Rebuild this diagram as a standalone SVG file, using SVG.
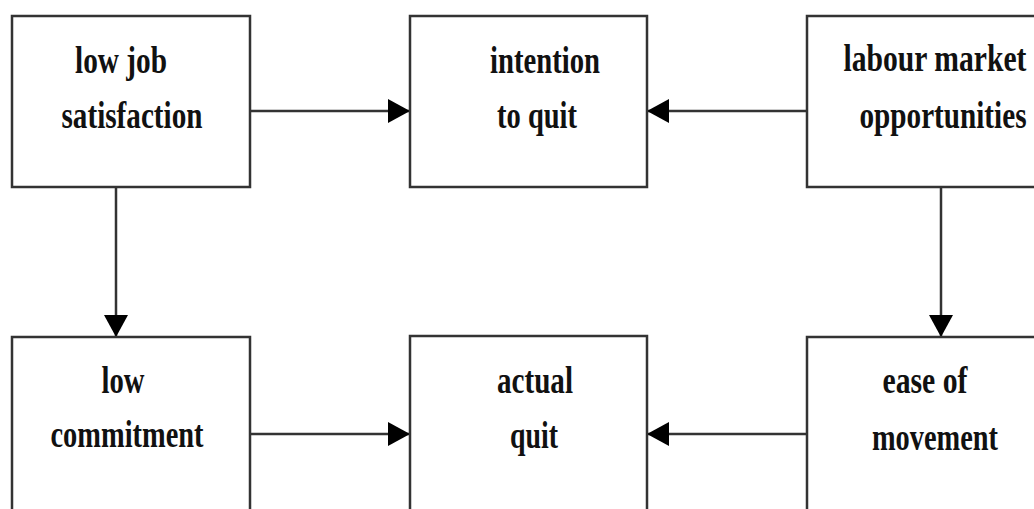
<svg xmlns="http://www.w3.org/2000/svg" width="1034" height="509" viewBox="0 0 1034 509">
  <defs>
    <style>
      .box { fill: #ffffff; stroke: #333333; stroke-width: 2.5; }
      .lbl { font-family: "Liberation Serif", "Times New Roman", serif; font-weight: bold; font-size: 37px; fill: #111111; text-anchor: middle; }
      .conn { stroke: #333333; stroke-width: 2.5; fill: none; marker-end: url(#arrow); }
    </style>
    <marker id="arrow" markerUnits="userSpaceOnUse" markerWidth="24" markerHeight="26" refX="22" refY="12" orient="auto">
      <path d="M0,0 L22,12 L0,24 Z" fill="#000000"/>
    </marker>
  </defs>
  <rect width="1034" height="509" fill="#ffffff"/>

  <g id="connectors">
    <line class="conn" x1="250" y1="111" x2="410" y2="111"/>
    <line class="conn" x1="807" y1="111" x2="647" y2="111"/>
    <line class="conn" x1="116" y1="187" x2="116" y2="337"/>
    <line class="conn" x1="941" y1="187" x2="941" y2="337"/>
    <line class="conn" x1="250" y1="434" x2="410" y2="434"/>
    <line class="conn" x1="807" y1="434" x2="647" y2="434"/>
  </g>

  <g id="low-job-satisfaction">
    <rect class="box" x="12" y="16" width="238" height="171"/>
    <text class="lbl" x="121" y="73" textLength="92" lengthAdjust="spacingAndGlyphs">low job</text>
    <text class="lbl" x="132" y="128" textLength="141" lengthAdjust="spacingAndGlyphs">satisfaction</text>
  </g>

  <g id="intention-to-quit">
    <rect class="box" x="410" y="16" width="237" height="171"/>
    <text class="lbl" x="545" y="73" textLength="110" lengthAdjust="spacingAndGlyphs">intention</text>
    <text class="lbl" x="537" y="128" textLength="80" lengthAdjust="spacingAndGlyphs">to quit</text>
  </g>

  <g id="labour-market-opportunities">
    <rect class="box" x="807" y="16" width="240" height="171"/>
    <text class="lbl" x="935" y="71" textLength="183" lengthAdjust="spacingAndGlyphs">labour market</text>
    <text class="lbl" x="943" y="128" textLength="167" lengthAdjust="spacingAndGlyphs">opportunities</text>
  </g>

  <g id="low-commitment">
    <rect class="box" x="12" y="337" width="238" height="180"/>
    <text class="lbl" x="123" y="393" textLength="43" lengthAdjust="spacingAndGlyphs">low</text>
    <text class="lbl" x="127" y="447" textLength="153" lengthAdjust="spacingAndGlyphs">commitment</text>
  </g>

  <g id="actual-quit">
    <rect class="box" x="410" y="336" width="237" height="180"/>
    <text class="lbl" x="535" y="393" textLength="76" lengthAdjust="spacingAndGlyphs">actual</text>
    <text class="lbl" x="534" y="448" textLength="48" lengthAdjust="spacingAndGlyphs">quit</text>
  </g>

  <g id="ease-of-movement">
    <rect class="box" x="807" y="337" width="240" height="180"/>
    <text class="lbl" x="925" y="393" textLength="85" lengthAdjust="spacingAndGlyphs">ease of</text>
    <text class="lbl" x="935" y="450" textLength="126" lengthAdjust="spacingAndGlyphs">movement</text>
  </g>
</svg>
